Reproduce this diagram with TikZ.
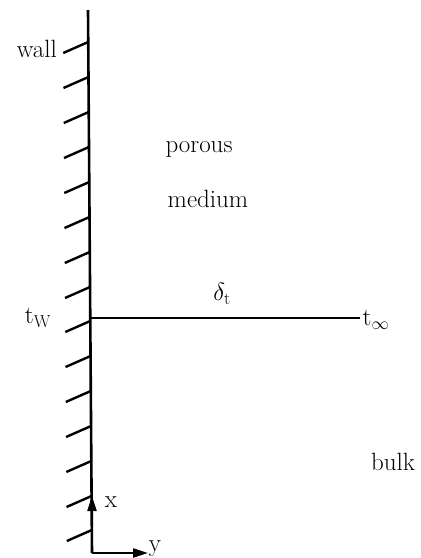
\documentclass[tikz,border=0pt]{standalone}
\usetikzlibrary{arrows.meta}
\begin{document}
\begin{tikzpicture}[x=1pt,y=-1pt,
  lbl/.style={font=\fontsize{25}{29}\selectfont, inner sep=0pt},
  wallline/.style={line width=2.6pt},
  hatchline/.style={line width=2.4pt},
  axisline/.style={line width=2.2pt, -{Triangle[length=15pt,width=9pt]}},
  profile/.style={line width=1.8pt}]
\useasboundingbox (0,0) rectangle (421,558);
% wall
\coordinate (wtop) at (88,10);
\coordinate (corner) at (92,553);
\draw[wallline] (wtop) -- (corner);
% hatches
\foreach \yy in {42,77,112,147,182,217,252,287,321,356,391,426,461,496,530}{
  \path (wtop) -- (corner) coordinate[pos={(\yy-10)/543}] (h);
  \draw[hatchline] (h) -- ++(-25,11);
}
% labels
\node[lbl, anchor=base east] (wall) at (57,57) {wall};
\node[lbl] (porous) at (199,149) {porous};
\node[lbl] (medium) at (208,199) {medium};
\node[lbl] (bulk) at (393,462) {bulk};
% profile line
\coordinate (tw0) at (90,318);
\coordinate (tinf0) at (360,318);
\draw[profile] (tw0) -- (tinf0);
\node[lbl] (tw) at (38,318) {t$_{\mathrm{W}}$};
\node[lbl] (tinf) at (376,320) {t$_{\scriptstyle\infty}$};
\node[lbl] (delta) at (222,294) {$\delta_{\mathrm t}$};
% axes
\coordinate (xend) at (92,496);
\coordinate (yend) at (148,553);
\draw[axisline] (corner) -- (xend);
\draw[axisline] (corner) -- (yend);
\node[lbl] (xl) at (111,502) {x};
\node[lbl] (yl) at (155,549) {y};
\end{tikzpicture}
\end{document}
